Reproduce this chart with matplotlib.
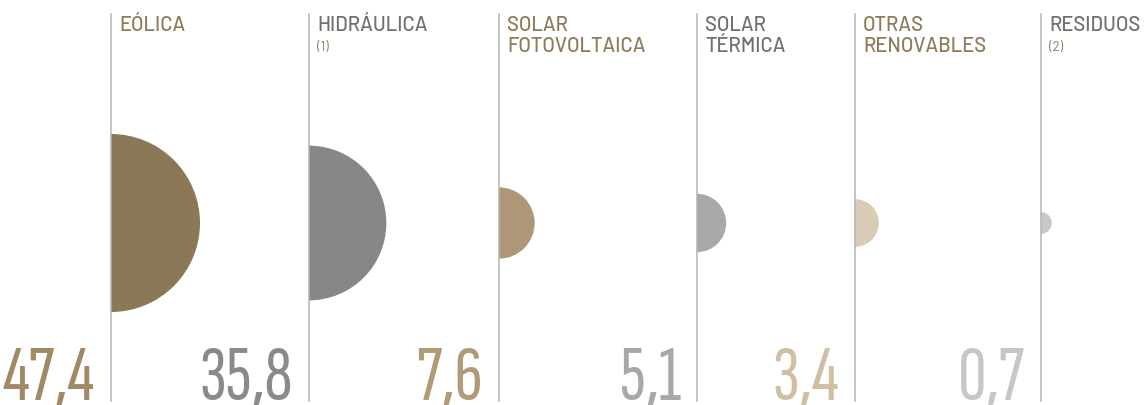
import numpy as np
import matplotlib.pyplot as plt
from matplotlib.patches import Wedge

# energía renovable por tecnología (%)
categorias = [["EÓLICA"], ["HIDRÁULICA"], ["SOLAR", "FOTOVOLTAICA"],
              ["SOLAR", "TÉRMICA"], ["OTRAS", "RENOVABLES"], ["RESIDUOS"]]
notas = ["", "(1)", "", "", "", "(2)"]
valores = [47.4, 35.8, 7.6, 5.1, 3.4, 0.7]
etiquetas = ["47,4", "35,8", "7,6", "5,1", "3,4", "0,7"]

col_forma = ["#8b7857", "#878787", "#ad9776", "#a9a9a9", "#d9ccb6", "#c8c8c8"]
col_numero = ["#a08a66", "#8a8a8a", "#b09a78", "#a8a8a8", "#d0bfa3", "#c6c6c6"]
col_titulo = ["#8e7b5a", "#707070", "#8e7b5a", "#707070", "#8e7b5a", "#707070"]

x_linea = [111, 309, 499, 697, 855, 1041]
y_centro = 224
r_max = 89  # radio del mayor valor; área proporcional al valor

fuente_titulo = ["Barlow", "DejaVu Sans"]
fuente_numero = ["Sofia Sans Extra Condensed", "Barlow Condensed", "DejaVu Sans"]

fig = plt.figure(figsize=(11.45, 4.06), dpi=100)
ax = fig.add_axes([0, 0, 1, 1])
ax.set_xlim(0, 1145)
ax.set_ylim(406, 0)
ax.axis("off")

for i, v in enumerate(valores):
    x = x_linea[i]
    ax.plot([x, x], [15, 402], color="#b4b4b4", lw=1.1, zorder=3)
    r = r_max * np.sqrt(v / max(valores))
    ax.add_patch(Wedge((x, y_centro), r, -90, 90, facecolor=col_forma[i],
                       edgecolor="none", zorder=2))
    for j, linea in enumerate(categorias[i]):
        ax.text(x + 8, 31 + 21 * j, linea, fontsize=14.5, color=col_titulo[i],
                family=fuente_titulo, fontweight=500, ha="left", va="baseline")
    if notas[i]:
        ax.text(x + 8, 51, notas[i], fontsize=9.5, color="#8e7b5a",
                family=fuente_titulo, ha="left", va="baseline")
    ax.text(x - 16, 400, etiquetas[i], fontsize=57, color=col_numero[i],
            family=fuente_numero, ha="right", va="baseline")

fig.savefig("out.png", dpi=100)
